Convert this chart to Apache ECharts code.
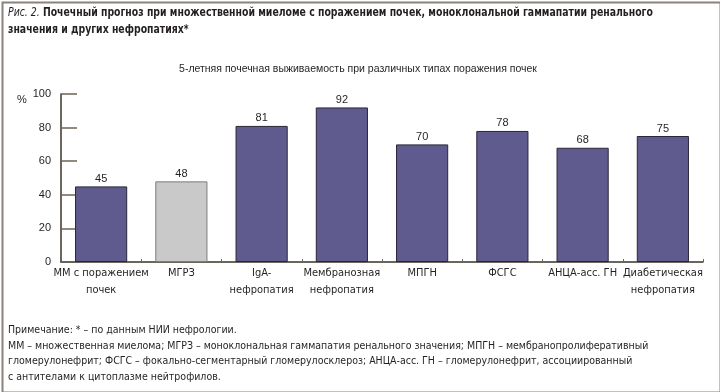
<!DOCTYPE html>
<html>
<head>
<meta charset="utf-8">
<script src="https://cdn.jsdelivr.net/npm/echarts@6/dist/echarts.min.js"></script>
<style>
html,body{margin:0;padding:0;background:#fff;}
#chart{width:720px;height:392px;}
</style>
</head>
<body>
<div id="chart"></div>
<script>
const categories = ['ММ с поражением\nпочек', 'МГРЗ', 'IgA-\nнефропатия', 'Мембранозная\nнефропатия', 'МПГН', 'ФСГС', 'АНЦА-асс. ГН', 'Диабетическая\nнефропатия'];
const survival = [45, 48, 81, 92, 70, 78, 68, 75];
const highlightIndex = [1];
const yTicks = [0, 20, 40, 60, 80, 100];

const titlePrefix = 'Рис. 2.';
const titleLine1 = ' Почечный прогноз при множественной миеломе с поражением почек, моноклональной гаммапатии ренального';
const titleLine2 = 'значения и других нефропатиях*';
const subtitle = '5-летняя почечная выживаемость при различных типах поражения почек';
const notes = [
  'Примечание: * – по данным НИИ нефрологии.',
  'ММ – множественная миелома; МГРЗ – моноклональная гаммапатия ренального значения; МПГН – мембранопролиферативный',
  'гломерулонефрит; ФСГС – фокально-сегментарный гломерулосклероз; АНЦА-асс. ГН – гломерулонефрит, ассоциированный',
  'с антителами к цитоплазме нейтрофилов.'
];

const NARROW = '"Liberation Sans Narrow", "DejaVu Sans Condensed", "Arial Narrow", sans-serif';
const SANS = '"Liberation Sans", Arial, sans-serif';
const TXT = '#231f20';

const chart = echarts.init(document.getElementById('chart'), null, {renderer: 'canvas'});

const barData = survival.map((v, i) => {
  const hi = highlightIndex.includes(i);
  return {
    value: v,
    itemStyle: hi ? {color: '#c9c9c9', borderColor: '#7d7d7d', borderWidth: 1}
                  : {color: '#5f5b8f', borderColor: '#2a2638', borderWidth: 1}
  };
});

chart.setOption({
  animation: false,
  grid: {left: 61, right: 17, top: 94, bottom: 130, containLabel: false},
  xAxis: {
    type: 'category',
    data: categories,
    axisLine: {lineStyle: {color: '#3a3328', width: 1.5}},
    axisTick: {show: true, inside: true, length: 3, lineStyle: {color: '#6b6355'}},
    axisLabel: {color: TXT, fontFamily: NARROW, fontSize: 11, lineHeight: 17, margin: 3, interval: 0}
  },
  yAxis: {
    type: 'value',
    min: 0, max: 100, interval: 20,
    axisLine: {show: true, lineStyle: {color: '#3a3328', width: 1.5}},
    axisTick: {show: true, inside: true, length: 16, lineStyle: {color: '#6b6355', width: 1.5}},
    splitLine: {show: false},
    axisLabel: {color: TXT, fontFamily: SANS, fontSize: 11, margin: 10,
      formatter: v => yTicks.includes(v) ? String(v) : ''}
  },
  series: [{
    type: 'bar',
    data: barData,
    barWidth: '65%',
    label: {show: true, position: 'top', distance: 2, color: TXT, fontFamily: SANS, fontSize: 11}
  }],
  graphic: [
    {type: 'rect', left: 0, top: 0, shape: {x: 1, y: 1, width: 718, height: 390},
     style: {fill: 'none', stroke: '#8a837a', lineWidth: 2}, silent: true},
    {type: 'text', x: 8, y: 4, scaleX: 0.83, style: {
      text: '{i|' + titlePrefix + '}{b|' + titleLine1 + '}\n{b|' + titleLine2 + '}',
      rich: {
        i: {fontFamily: NARROW, fontStyle: 'italic', fontSize: 12.5, fill: TXT, lineHeight: 17},
        b: {fontFamily: NARROW, fontWeight: 'bold', fontSize: 12.5, fill: TXT, lineHeight: 17}
      }
    }},
    {type: 'text', x: 358, y: 69, style: {text: subtitle, fontFamily: SANS, fontSize: 10.5, fill: TXT,
      textAlign: 'center', textVerticalAlign: 'middle'}},
    {type: 'text', x: 22, y: 100, style: {text: '%', fontFamily: SANS, fontSize: 11, fill: TXT,
      textAlign: 'center', textVerticalAlign: 'middle'}},
    {type: 'text', left: 8, top: 323, style: {text: notes.join('\n'), fontFamily: NARROW, fontSize: 10.5,
      lineHeight: 15.5, fill: TXT}}
  ]
});
</script>
</body>
</html>
